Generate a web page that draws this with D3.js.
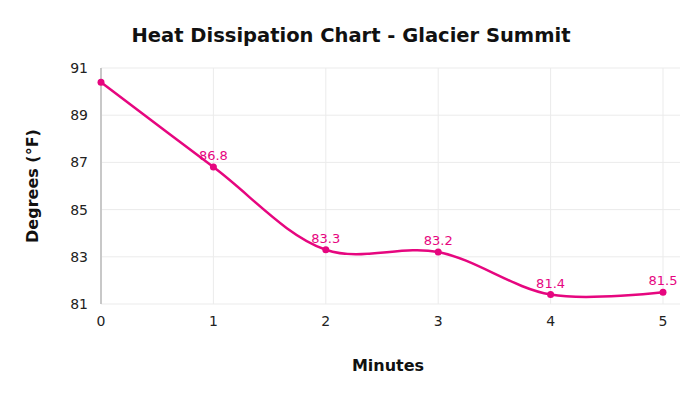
<!DOCTYPE html>
<html>
<head>
<meta charset="utf-8">
<script src="https://cdn.jsdelivr.net/npm/d3@7"></script>
<style>
  body { margin: 0; background: #fff; }
  text { font-family: Verdana, "DejaVu Sans", sans-serif; }
</style>
</head>
<body>
<div id="app"></div>
<script>
const minutes = [0, 1, 2, 3, 4, 5];
const degrees = [90.4, 86.8, 83.3, 83.2, 81.4, 81.5];
const showLabel = [false, true, true, true, true, true];
const yTicks = [81, 83, 85, 87, 89, 91];

const pink = '#e6067f';

const points = minutes.map((m, i) => ({ m, v: degrees[i], label: showLabel[i] }));

const svg = d3.select('#app')
  .append('svg')
  .attr('width', 700)
  .attr('height', 394);

const x = d3.scaleLinear().domain([0, 5]).range([101, 663]);
const y = d3.scaleLinear().domain([81, 91]).range([304, 68]);
const plotRight = 680;

// grid
svg.append('g')
  .selectAll('line')
  .data(yTicks)
  .join('line')
  .attr('x1', x(0))
  .attr('x2', plotRight)
  .attr('y1', d => y(d))
  .attr('y2', d => y(d))
  .attr('stroke', '#ebebeb')
  .attr('stroke-width', 1);

svg.append('g')
  .selectAll('line')
  .data(minutes.slice(1))
  .join('line')
  .attr('x1', d => x(d))
  .attr('x2', d => x(d))
  .attr('y1', y(91))
  .attr('y2', y(81))
  .attr('stroke', '#ebebeb')
  .attr('stroke-width', 1);

// y axis line
svg.append('line')
  .attr('x1', x(0))
  .attr('x2', x(0))
  .attr('y1', y(91))
  .attr('y2', y(81))
  .attr('stroke', '#c8c8c8')
  .attr('stroke-width', 2);

// tick labels
svg.append('g')
  .selectAll('text')
  .data(yTicks)
  .join('text')
  .attr('x', 88)
  .attr('y', d => y(d))
  .attr('dy', '0.35em')
  .attr('text-anchor', 'end')
  .attr('font-size', 14)
  .attr('fill', '#222')
  .text(d => d);

svg.append('g')
  .selectAll('text')
  .data(minutes)
  .join('text')
  .attr('x', d => x(d))
  .attr('y', 326)
  .attr('text-anchor', 'middle')
  .attr('font-size', 14)
  .attr('fill', '#222')
  .text(d => d);

// line
const line = d3.line()
  .x(d => x(d.m))
  .y(d => y(d.v))
  .curve(d3.curveCatmullRom.alpha(0.5));

svg.append('path')
  .datum(points)
  .attr('d', line)
  .attr('fill', 'none')
  .attr('stroke', pink)
  .attr('stroke-width', 2.5);

svg.append('g')
  .selectAll('circle')
  .data(points)
  .join('circle')
  .attr('cx', d => x(d.m))
  .attr('cy', d => y(d.v))
  .attr('r', 3.5)
  .attr('fill', pink);

svg.append('g')
  .selectAll('text')
  .data(points.filter(d => d.label))
  .join('text')
  .attr('x', d => x(d.m))
  .attr('y', d => y(d.v) - 7)
  .attr('text-anchor', 'middle')
  .attr('font-size', 13)
  .attr('fill', pink)
  .text(d => d.v.toFixed(1));

// titles
svg.append('text')
  .attr('x', 351)
  .attr('y', 42)
  .attr('text-anchor', 'middle')
  .attr('font-size', 19.5)
  .attr('font-weight', 'bold')
  .attr('fill', '#111')
  .text('Heat Dissipation Chart - Glacier Summit');

svg.append('text')
  .attr('x', 388)
  .attr('y', 371)
  .attr('text-anchor', 'middle')
  .attr('font-size', 16)
  .attr('font-weight', 'bold')
  .attr('fill', '#111')
  .text('Minutes');

svg.append('text')
  .attr('transform', 'translate(38,186) rotate(-90)')
  .attr('text-anchor', 'middle')
  .attr('font-size', 16)
  .attr('font-weight', 'bold')
  .attr('fill', '#111')
  .text('Degrees (°F)');
</script>
</body>
</html>
